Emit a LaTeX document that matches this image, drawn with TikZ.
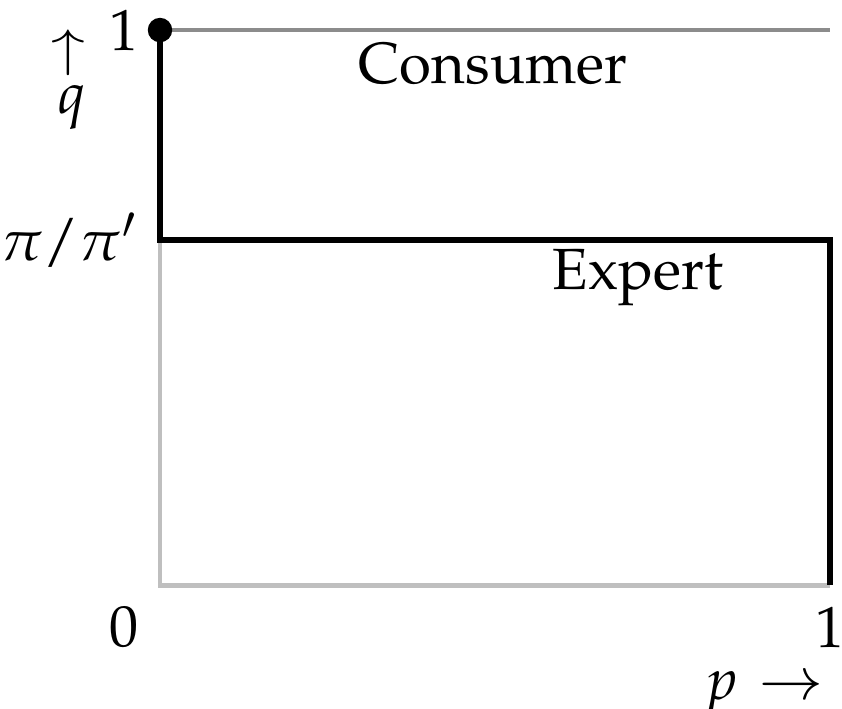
\documentclass[tikz,border=0pt]{standalone}
\usepackage[T1]{fontenc}
\usepackage{mathpazo}
\usepackage{graphicx}
\usetikzlibrary{positioning}

\begin{document}
\begin{tikzpicture}[
    x=3.85cm, y=3.19cm,
    edge/.style={line width=1pt, black},
    faint/.style={line width=0.8pt, black!25},
    upper/.style={line width=0.65pt, black!45},
    lbl/.style={font=\fontsize{9.5}{11}\selectfont}
]
\useasboundingbox (-0.2388,-0.2216) rectangle (1.0179,1.0541);
\coordinate (origin) at (0,0);
\coordinate (qone) at (0,1);
\coordinate (qoner) at (1,1);
\coordinate (cut) at (0,0.6216);
\coordinate (cutr) at (1,0.6216);
\coordinate (pone) at (1,0);
% regions
\draw[upper] (qone) -- (qoner);
\draw[faint] (cut) -- (origin) -- (pone);
\draw[edge] (qone) -- (cut) -- (cutr) -- (pone);
\fill (qone) circle (2pt);
% labels
\node[lbl, left] (lone) at (qone) {$1$};
\node[lbl, left] (lcut) at (cut) {$\pi/\pi'$};
\node[lbl, below left] (lzero) at (origin) {$0$};
\node[lbl, below] (lpone) at (pone) {$1$};
\node[lbl, inner sep=0pt] (uparr) at (-0.1313,0.9595) {\rotatebox{90}{\scalebox{0.85}[1]{$\rightarrow$}}};
\node[lbl] (qlab) at (-0.1313,0.860) {$q$};
\node[lbl, anchor=base east, inner sep=0pt] (plab) at (0.9925,-0.2054) {$p$\hspace{0.35em}\scalebox{1.05}[1]{$\rightarrow$}};
\node[lbl] (consumer) at (0.497,0.939) {Consumer};
\node[lbl] (expert) at (0.7134,0.554) {Expert};
\end{tikzpicture}
\end{document}
